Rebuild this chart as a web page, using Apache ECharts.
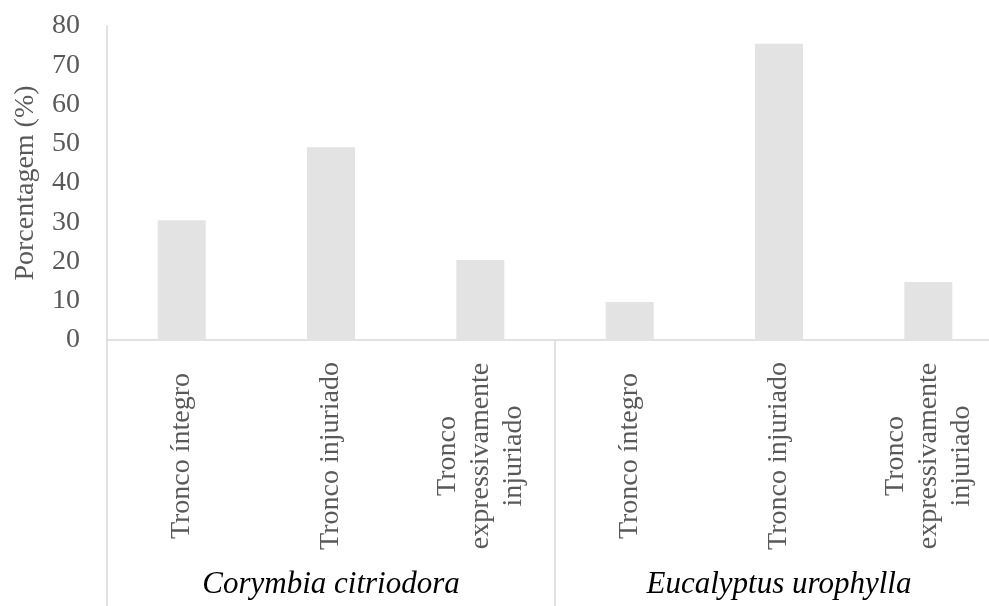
<!DOCTYPE html>
<html>
<head>
<meta charset="utf-8">
<script src="https://cdn.jsdelivr.net/npm/echarts@6/dist/echarts.min.js"></script>
<style>
  html, body { margin: 0; padding: 0; background: #fff; }
  #chartBox { width: 989px; height: 606px; }
</style>
</head>
<body>
<div id="chartBox"></div>
<script>
// categorias do eixo X
var categories = [
  'Tronco íntegro', 'Tronco injuriado', 'Tronco\nexpressivamente\ninjuriado',
  'Tronco íntegro', 'Tronco injuriado', 'Tronco\nexpressivamente\ninjuriado'
]
// espécies (grupos)
var groups = ['Corymbia citriodora', 'Eucalyptus urophylla']
// porcentagem (%)
var percentValues = [30.5, 49.1, 20.4, 9.7, 75.5, 14.8]
var yTicks = { min: 0, max: 80, interval: 10 }

var font = '"Liberation Serif", "Times New Roman", serif'
var textColor = '#595959'
var lineColor = '#d9d9d9'

var myChart = echarts.init(document.getElementById('chartBox'))
myChart.setOption({
  animation: false,
  grid: {
    left: 107,
    top: 26,
    bottom: 266,
    width: 896,
    outerBoundsMode: 'none',
    containLabel: false
  },
  xAxis: [
    {
      type: 'category',
      data: categories,
      axisLine: { lineStyle: { color: lineColor, width: 1.5 } },
      axisTick: { show: false },
      axisLabel: {
        interval: 0,
        rotate: 90,
        align: 'center',
        verticalAlign: 'middle',
        margin: 116,
        color: textColor,
        fontFamily: font,
        fontSize: 28,
        lineHeight: 33
      }
    },
    {
      // grupos por espécie, com as linhas divisórias
      type: 'category',
      position: 'bottom',
      data: groups,
      axisLine: { show: false },
      axisTick: {
        show: true,
        interval: 0,
        length: 266,
        lineStyle: { color: lineColor, width: 1.5 }
      },
      axisLabel: {
        interval: 0,
        margin: 245,
        verticalAlign: 'middle',
        color: '#000',
        fontFamily: font,
        fontStyle: 'italic',
        fontSize: 31
      }
    }
  ],
  yAxis: {
    type: 'value',
    min: yTicks.min,
    max: yTicks.max,
    interval: yTicks.interval,
    name: 'Porcentagem (%)',
    nameLocation: 'middle',
    nameGap: 67,
    nameTextStyle: { color: textColor, fontFamily: font, fontSize: 28 },
    axisLine: { show: true, lineStyle: { color: lineColor, width: 1.5 } },
    axisTick: { show: false },
    splitLine: { show: false },
    axisLabel: {
      margin: 27,
      color: textColor,
      fontFamily: font,
      fontSize: 28
    }
  },
  series: [{
    type: 'bar',
    xAxisIndex: 0,
    barWidth: 48,
    data: percentValues,
    itemStyle: { color: '#e3e3e3' }
  }]
})
</script>
</body>
</html>
